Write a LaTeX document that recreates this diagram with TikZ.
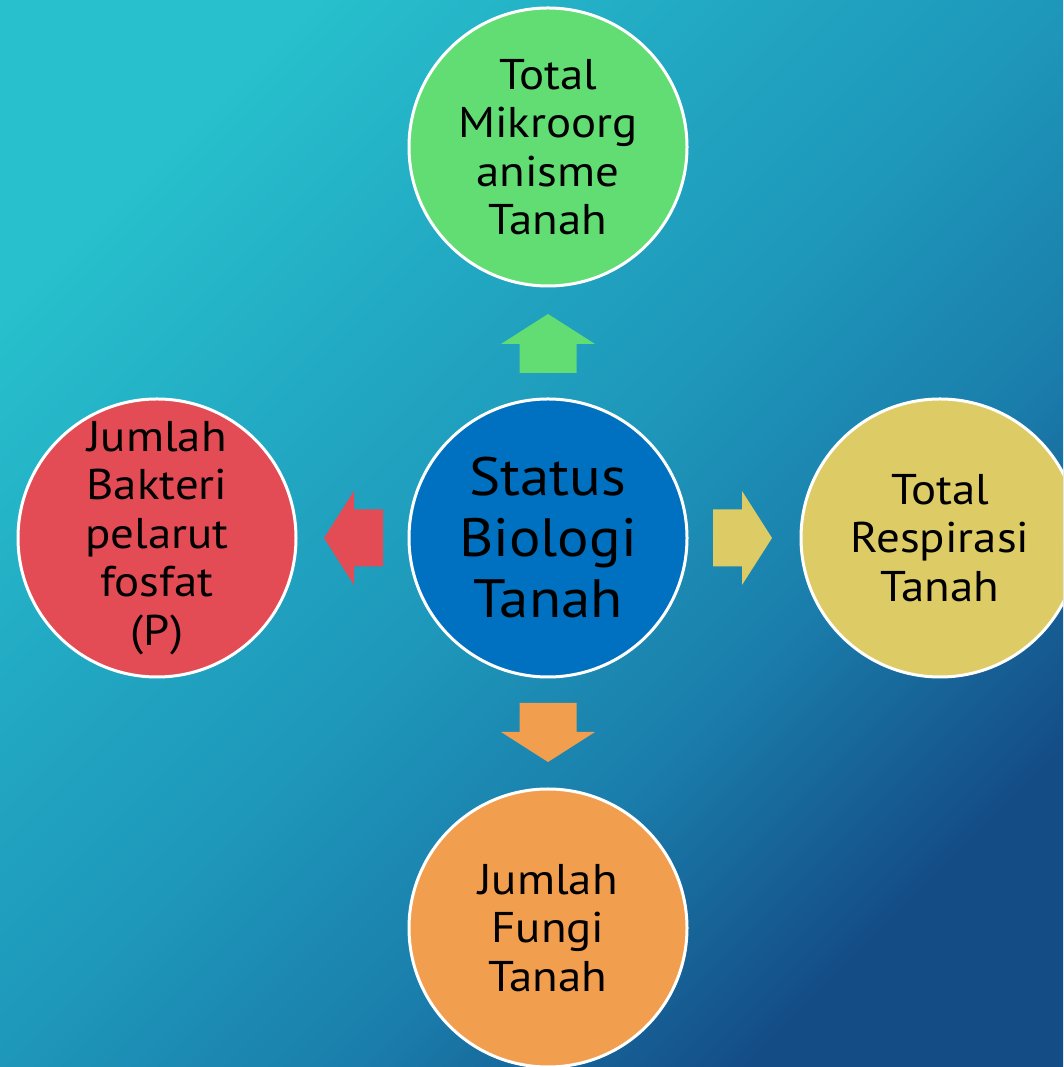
\documentclass[tikz,border=0pt]{standalone}
\usepackage{fontspec}
\setmainfont[FakeStretch=1.09]{PT Sans}
\definecolor{bgA}{HTML}{27C0CC}
\definecolor{bgE}{HTML}{22A9C3}
\definecolor{bgB}{HTML}{1E97BA}
\definecolor{bgD}{HTML}{1A7DAB}
\definecolor{bgC}{HTML}{144C86}
\definecolor{cBlue}{HTML}{0070C0}
\definecolor{cGreen}{HTML}{62DD73}
\definecolor{cRed}{HTML}{E34B55}
\definecolor{cYellow}{HTML}{DDCB65}
\definecolor{cOrange}{HTML}{F29E4F}
\pgfdeclareverticalshading{bgshade}{100bp}{color(0bp)=(bgC); color(25bp)=(bgC);
  color(38bp)=(bgD); color(50bp)=(bgB); color(62bp)=(bgE); color(75bp)=(bgA); color(100bp)=(bgA)}
\begin{document}
\begin{tikzpicture}[x=1pt,y=1pt,
  bubble/.style={circle, draw=white, line width=3pt, minimum size=278pt,
    inner sep=0pt, align=center, text=black,
    font=\fontsize{43}{48.5}\selectfont},
  bigbubble/.style={bubble, font=\fontsize{54}{61}\selectfont},
  blockarr/.pic={\path[pic actions] (-28.5,165) -- (28.5,165) -- (28.5,194) -- (47,194)
      -- (0,224) -- (-47,194) -- (-28.5,194) -- cycle;}]
\useasboundingbox (0,0) rectangle (1063,1067);
\shade[shading=bgshade, shading angle=45] (0,0) rectangle (1063,1067);
\begin{scope}
\clip (0,0) rectangle (1063,1067);
\node[bigbubble, fill=cBlue] (c) at (548,529) {Status\\Biologi\\Tanah};
\node[bubble, fill=cGreen] (t) at (548,920) {Total\\Mikroorg\\anisme\\Tanah};
\node[bubble, fill=cRed] (l) at (157,529) {Jumlah\\Bakteri\\pelarut\\fosfat\\(P)};
\node[bubble, fill=cYellow] (r) at (940,529) {Total\\Respirasi\\Tanah};
\node[bubble, fill=cOrange] (b) at (548,139) {Jumlah\\Fungi\\Tanah};
\end{scope}
\pic[fill=cGreen] at (c.center) {blockarr};
\pic[fill=cRed, rotate=90] at (c.center) {blockarr};
\pic[fill=cYellow, rotate=-90] at (c.center) {blockarr};
\pic[fill=cOrange, rotate=180] at (c.center) {blockarr};
\end{tikzpicture}
\end{document}
